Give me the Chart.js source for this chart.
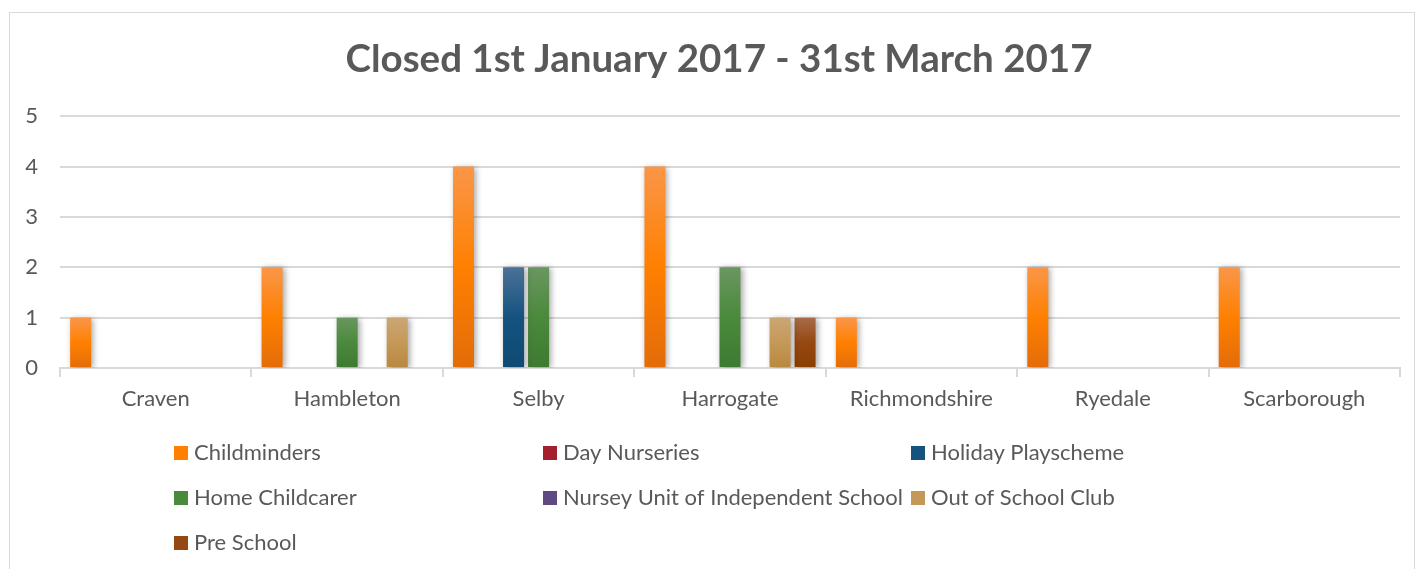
<!DOCTYPE html>
<html>
<head>
<meta charset="utf-8">
<script src="https://cdn.jsdelivr.net/npm/chart.js@4"></script>
<style>
  html, body { margin: 0; padding: 0; background: #fff; }
  #wrap { position: relative; width: 1418px; height: 569px; overflow: hidden; }
  #frame { position: absolute; left: 9px; top: 12px; width: 1406px; height: 600px; border: 1px solid #d9d9d9; box-sizing: border-box; }
  canvas { position: absolute; left: 0; top: 0; }
</style>
</head>
<body>
<div id="wrap">
  <div id="frame"></div>
  <canvas id="chart" width="1418" height="569"></canvas>
</div>
<script>
const districts = ['Craven', 'Hambleton', 'Selby', 'Harrogate', 'Richmondshire', 'Ryedale', 'Scarborough'];

const childminders = [1, 2, 4, 4, 1, 2, 2];
const dayNurseries = [0, 0, 0, 0, 0, 0, 0];
const holidayPlayscheme = [0, 0, 2, 0, 0, 0, 0];
const homeChildcarer = [0, 1, 2, 2, 0, 0, 0];
const nurseryUnit = [0, 0, 0, 0, 0, 0, 0];
const outOfSchoolClub = [0, 1, 0, 1, 0, 0, 0];
const preSchool = [0, 0, 0, 1, 0, 0, 0];

const yTicks = [0, 1, 2, 3, 4, 5];

const FONT = 'Lato, "Open Sans", sans-serif';

// light top / mid / dark bottom, like the office gradient fill
const palette = {
    orange: ['#fa9649', '#ff8000', '#e36c09'],
    red: ['#b03a48', '#a5202f', '#931b28'],
    blue: ['#4b7197', '#145280', '#0f4a72'],
    green: ['#6a9660', '#4a8a3c', '#3e7a32'],
    purple: ['#6c5a8c', '#5e4a80', '#4f3d70'],
    tan: ['#cba674', '#c49858', '#b9883f'],
    brown: ['#a86b48', '#954810', '#8a3f00']
};

function barFill(cols) {
    return function (ctx) {
        const chart = ctx.chart;
        const y = chart.scales.y;
        if (!chart.chartArea || !y || ctx.raw == null) return cols[1];
        const top = y.getPixelForValue(ctx.raw);
        const base = y.getPixelForValue(0);
        if (base - top < 1) return cols[1];
        const g = chart.ctx.createLinearGradient(0, top, 0, base);
        g.addColorStop(0, cols[0]);
        g.addColorStop(0.5, cols[1]);
        g.addColorStop(1, cols[2]);
        return g;
    };
}

function series(label, data, cols) {
    return {
        label: label,
        data: data,
        backgroundColor: barFill(cols),
        legendColor: cols[1],
        borderWidth: 0,
        categoryPercentage: 0.915,
        barPercentage: 0.84
    };
}

const shadowPlugin = {
    id: 'shadow',
    beforeDatasetsDraw(chart) {
        const c = chart.ctx;
        c.save();
        c.shadowColor = 'rgba(0,0,0,0.35)';
        c.shadowBlur = 6;
        c.shadowOffsetX = 2;
        c.shadowOffsetY = 1;
    },
    afterDatasetsDraw(chart) {
        chart.ctx.restore();
    }
};

// three-column legend under the axis
const gridLegend = {
    id: 'gridLegend',
    afterDraw(chart) {
        const c = chart.ctx;
        const cols = [174, 543, 911];
        const rows = [453, 498, 543];
        c.save();
        c.font = '22px ' + FONT;
        c.textBaseline = 'middle';
        chart.data.datasets.forEach(function (ds, i) {
            const x = cols[i % 3];
            const y = rows[Math.floor(i / 3)];
            c.fillStyle = ds.legendColor;
            c.fillRect(x, y - 7, 14, 14);
            c.fillStyle = '#595959';
            c.fillText(ds.label, x + 20, y);
        });
        c.restore();
    }
};

new Chart(document.getElementById('chart'), {
    type: 'bar',
    data: {
        labels: districts,
        datasets: [
            series('Childminders', childminders, palette.orange),
            series('Day Nurseries', dayNurseries, palette.red),
            series('Holiday Playscheme', holidayPlayscheme, palette.blue),
            series('Home Childcarer', homeChildcarer, palette.green),
            series('Nursey Unit of Independent School', nurseryUnit, palette.purple),
            series('Out of School Club', outOfSchoolClub, palette.tan),
            series('Pre School', preSchool, palette.brown)
        ]
    },
    options: {
        responsive: false,
        animation: false,
        layout: { padding: { left: 20, right: 0, top: 0, bottom: 144 } },
        plugins: {
            legend: { display: false },
            tooltip: { enabled: false },
            title: {
                display: true,
                text: 'Closed 1st January 2017 - 31st March 2017',
                color: '#595959',
                font: { family: FONT, size: 38.5, weight: 'bold' },
                padding: { top: 36, bottom: 34 }
            }
        },
        scales: {
            x: {
                grid: { display: true, drawOnChartArea: false, offset: true, tickLength: 9, color: '#d9d9d9', lineWidth: 2 },
                border: { color: '#d9d9d9', width: 2 },
                ticks: { color: '#595959', font: { family: FONT, size: 22 }, padding: 9 },
                afterFit(scale) { scale.height = 57; }
            },
            y: {
                min: 0,
                max: 5,
                afterBuildTicks(scale) { scale.ticks = yTicks.map(v => ({ value: v })); },
                grid: { color: '#d9d9d9', lineWidth: 2, drawTicks: false },
                border: { display: false },
                ticks: { color: '#595959', font: { family: FONT, size: 22 }, padding: 22 },
                afterFit(scale) { scale.width = 40; }
            },
            // empty right gutter so the plot ends where the reference does
            yRight: {
                position: 'right',
                grid: { display: false },
                border: { display: false },
                ticks: { display: false },
                afterFit(scale) { scale.width = 18; }
            }
        }
    },
    plugins: [shadowPlugin, gridLegend]
});
</script>
</body>
</html>
